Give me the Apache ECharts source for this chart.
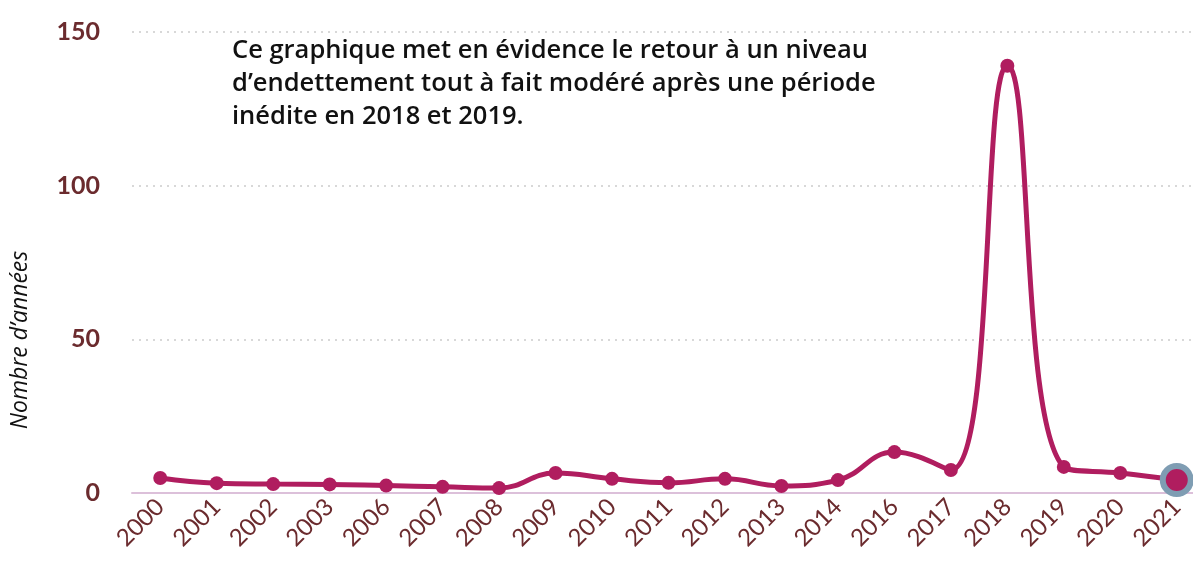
<!DOCTYPE html>
<html>
<head>
<meta charset="utf-8">
<script src="https://cdn.jsdelivr.net/npm/echarts@6/dist/echarts.min.js"></script>
<style>
  html, body { margin: 0; padding: 0; background: #fff; }
  #view { width: 1193px; height: 569px; }
</style>
</head>
<body>
<div id="view"></div>
<script>
// années (2004, 2005 et 2015 absentes de la source)
const years = ["2000", "2001", "2002", "2003", "2006", "2007", "2008", "2009", "2010", "2011",
  "2012", "2013", "2014", "2016", "2017", "2018", "2019", "2020", "2021"];
const values = [4.9, 3.2, 2.9, 2.8, 2.4, 2.0, 1.6, 6.5, 4.6, 3.3,
  4.6, 2.3, 4.2, 13.3, 7.5, 139, 8.5, 6.5, 4.2];
const yTicks = [0, 50, 100, 150];
const noteLines = [
  "Ce graphique met en évidence le retour à un niveau",
  "d’endettement tout à fait modéré après une période",
  "inédite en 2018 et 2019.",
];
const axisName = "Nombre d’années";

const lineColor = "#b01d5f";
const labelColor = "#6b2b2e";

let myChart = echarts.init(document.getElementById("view"));

let seriesData = values.map((v, i) => {
  if (i === values.length - 1) {
    return {
      value: v,
      symbolSize: 28,
      itemStyle: { color: lineColor, borderColor: "#7f9db3", borderWidth: 6 },
    };
  }
  return v;
});

let option = {
  backgroundColor: "#fff",
  animation: false,
  grid: {
    left: 132,
    top: 32,
    width: 1073,
    height: 461,
    outerBoundsMode: "none",
  },
  xAxis: {
    type: "category",
    data: years,
    boundaryGap: true,
    axisLine: { lineStyle: { color: "#dcc0da", width: 2 } },
    axisTick: { length: 16, lineStyle: { color: "#dcc0da", width: 2 } },
    axisLabel: {
      rotate: 45,
      margin: 10,
      color: labelColor,
      fontFamily: "Lato",
      fontSize: 24,
      interval: 0,
    },
  },
  yAxis: {
    type: "value",
    min: yTicks[0],
    max: yTicks[yTicks.length - 1],
    interval: 50,
    axisLine: { show: false },
    axisTick: { show: false },
    axisLabel: {
      margin: 32,
      color: labelColor,
      fontFamily: "Lato",
      fontWeight: "bold",
      fontSize: 25,
    },
    splitLine: {
      lineStyle: { color: "#d8d8d8", type: [2, 5], width: 2 },
    },
  },
  series: [
    {
      type: "line",
      data: seriesData,
      smooth: 0.45,
      symbol: "circle",
      symbolSize: 14,
      lineStyle: { color: lineColor, width: 5 },
      itemStyle: { color: lineColor },
      z: 3,
    },
  ],
  graphic: [
    {
      type: "text",
      left: 232,
      top: 34,
      style: {
        text: noteLines.join("\n"),
        fill: "#111",
        font: "600 25.5px 'Open Sans'",
        lineHeight: 33,
      },
    },
    {
      type: "text",
      x: 20,
      y: 340,
      rotation: Math.PI / 2,
      style: {
        text: axisName,
        fill: "#111",
        font: "italic 23px 'Open Sans'",
        align: "center",
        verticalAlign: "middle",
      },
    },
  ],
};
myChart.setOption(option);
</script>
</body>
</html>
